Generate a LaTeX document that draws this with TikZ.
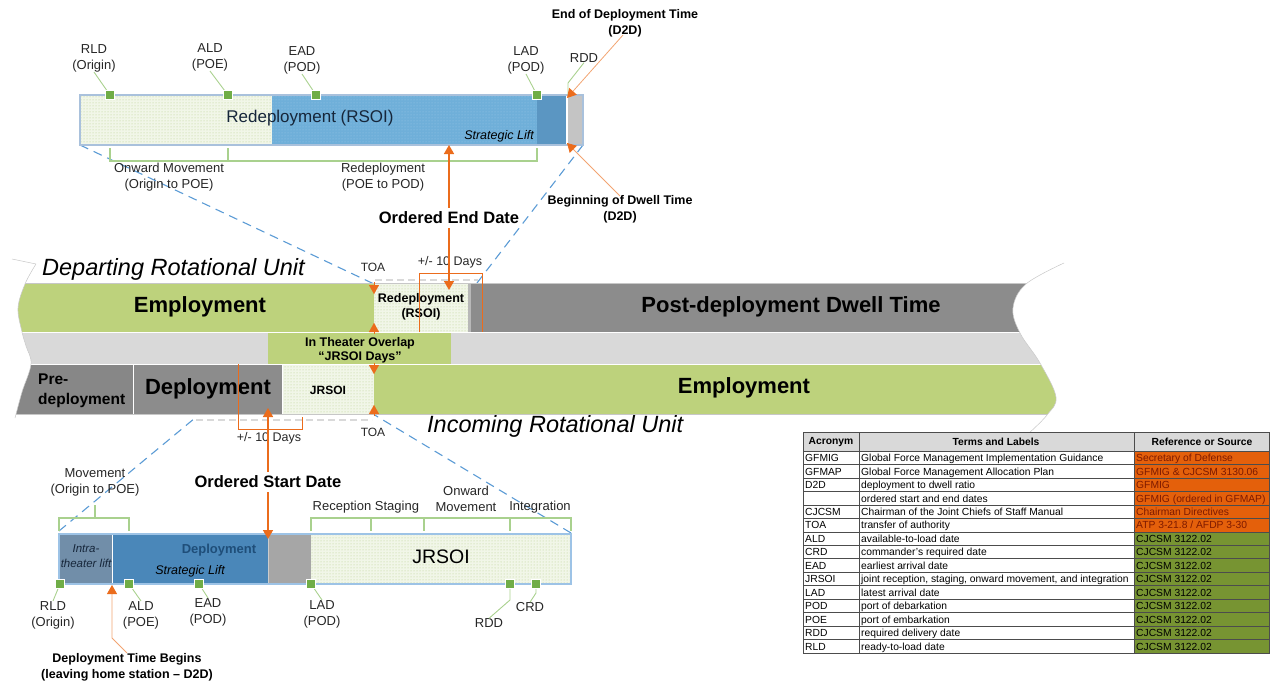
\documentclass[tikz,border=0pt]{standalone}
\usepackage{fontspec}
\setmainfont{Liberation Sans}
\usetikzlibrary{arrows.meta,patterns}

\definecolor{empgreen}{HTML}{BDD27C}
\definecolor{dwellgrey}{HTML}{8C8C8C}
\definecolor{predgrey}{HTML}{878787}
\definecolor{bandgrey}{HTML}{D9D9D9}
\definecolor{hatchbg}{HTML}{F1F6E8}
\definecolor{hatchdot}{HTML}{B5CF8A}
\definecolor{liftblue}{HTML}{6FAFD9}
\definecolor{liftdot}{HTML}{9CC8E6}
\definecolor{liftdark}{HTML}{5B96C2}
\definecolor{endgrey}{HTML}{C4C4C4}
\definecolor{intrablue}{HTML}{718EA9}
\definecolor{depblue}{HTML}{4A87B9}
\definecolor{gapgrey}{HTML}{A6A6A6}
\definecolor{arrorange}{HTML}{EB6C1C}
\definecolor{calloutorange}{HTML}{F2A472}
\definecolor{mkgreen}{HTML}{70AD47}
\definecolor{leadgreen}{HTML}{A9D18E}
\definecolor{dashblue}{HTML}{5B9BD5}
\definecolor{reforange}{HTML}{E4600B}
\definecolor{reftext}{HTML}{7E1A00}
\definecolor{refolive}{HTML}{779432}
\definecolor{ink}{HTML}{262626}
\definecolor{barframe}{HTML}{A9C1DC}
\definecolor{lowframe}{HTML}{9DC3E6}
\definecolor{navytext}{HTML}{1F4E79}
\definecolor{titletext}{HTML}{16263A}

\newcommand\fsz[2]{\fontsize{#1}{#2}\selectfont}

\tikzset{
  lab/.style={inner sep=0pt, align=center, text=ink, font=\fsz{13}{16}},
  blab/.style={inner sep=0pt, align=center, text=black, font=\fsz{12.5}{16}\bfseries},
  bandtxt/.style={inner sep=0pt, text=black, font=\fsz{22}{26}\bfseries},
  unittxt/.style={inner sep=0pt, text=black, anchor=west, font=\fsz{23.5}{26}\itshape},
  small/.style={inner sep=0pt, text=ink, font=\fsz{12.5}{14}},
  mk/.style={rectangle, fill=mkgreen, draw=white, line width=0.6pt, minimum size=8.5pt, inner sep=0pt},
  lead/.style={draw=leadgreen, line width=0.9pt},
  brk/.style={draw=leadgreen, line width=1.4pt},
  oarr/.style={draw=arrorange, line width=1.5pt, -{Triangle[length=9pt,width=10pt]}},
  otip/.style={draw=arrorange, line width=0.1pt, -{Triangle[length=9pt,width=10pt]}},
  othin/.style={draw=arrorange, line width=0.7pt},
  callout/.style={draw=calloutorange, line width=0.8pt, -{Triangle[length=9pt,width=10pt,fill=arrorange,color=arrorange]}},
  bluedash/.style={draw=dashblue, line width=1.1pt, dash pattern=on 9pt off 6pt},
  greydash/.style={draw=black!15, line width=1.4pt, dash pattern=on 7pt off 4pt},
  faint/.style={draw=black!22, line width=0.5pt},
  cell/.style={inner sep=0pt, anchor=base west, text=black, font=\fsz{10.3}{12}},
  hdr/.style={inner sep=0pt, text=black, font=\fsz{10.3}{12}\bfseries},
}

\begin{document}
\begin{tikzpicture}[x=1pt, y=-1pt]
\useasboundingbox (0,0) rectangle (1270,685);

% ---------- dashed zoom guides ----------
\coordinate (tbl) at (80,145);
\coordinate (tbr) at (583,145);
\coordinate (toaT) at (374,284);
\coordinate (rsoiR) at (477,283);
\coordinate (bbl) at (59,531);
\coordinate (bbr) at (571,533);
\coordinate (dashL) at (195,418);
\coordinate (toaB) at (373,414);
\draw[bluedash] (tbl) -- (toaT);
\draw[bluedash] (tbr) -- (rsoiR);
\draw[bluedash] (bbl) -- (dashL);
\draw[bluedash] (bbr) -- (toaB);

% ---------- upper bar: redeployment ----------
\fill[hatchbg] (80,95) rectangle (272,145);
\fill[pattern=dots, pattern color=hatchdot] (80,95) rectangle (272,145);
\fill[liftblue] (272,95) rectangle (537,145);
\fill[pattern=dots, pattern color=liftdot] (272,95) rectangle (537,145);
\fill[liftdark] (537,95) rectangle (567,145);
\fill[endgrey] (567,95) rectangle (583,145);
\draw[white, line width=1.2pt] (567,96) -- (567,144);
\draw[barframe, line width=1.3pt] (80,95) rectangle (583,145);

\node[inner sep=0pt, text=titletext, font=\fsz{17}{20}] (redepTitle) at (310,118) {Redeployment (RSOI)};
\node[inner sep=0pt, text=black, font=\fsz{12.5}{14}\itshape] (slTop) at (499,136) {Strategic Lift};

% markers on the upper bar
\node[lab] (lRLDt) at (94,58) {RLD\\(Origin)};
\node[lab] (lALDt) at (210,57) {ALD\\(POE)};
\node[lab] (lEADt) at (302,60) {EAD\\(POD)};
\node[lab] (lLADt) at (526,60) {LAD\\(POD)};
\node[lab] (lRDDt) at (584,58) {RDD};
\coordinate (rddBend) at (568,83);
\draw[lead] (lRLDt.south) -- (110,95);
\draw[lead] (lALDt.south) -- (228,95);
\draw[lead] (lEADt.south) -- (316,95);
\draw[lead] (lLADt.south) -- (537,95);
\draw[lead] (lRDDt.south) -- (rddBend) -- (568,95);
\node[mk] (mRLDt) at (110,95) {};
\node[mk] (mALDt) at (228,95) {};
\node[mk] (mEADt) at (316,95) {};
\node[mk] (mLADt) at (537,95) {};

% bracket under the upper bar
\draw[brk] (110,148) -- (110,161) -- (537,161) -- (537,148);
\draw[brk] (228,148) -- (228,161);
\node[lab] (onwTop) at (169,177.5) {Onward Movement\\(Origin to POE)};
\node[lab] (redTop) at (383,177.5) {Redeployment\\(POE to POD)};

% D2D call-outs
\node[blab] (eodt) at (625,23) {End of Deployment Time\\(D2D)};
\node[blab] (bodt) at (620,209) {Beginning of Dwell Time\\(D2D)};
\draw[callout] ([shift={(-2,-2)}]eodt.south) -- (567,98);
\draw[callout] ([shift={(0,1)}]bodt.north) -- (567,143);

% ordered end date
\node[inner sep=0pt, font=\fsz{16.5}{20}\bfseries] (oed) at (449,218) {Ordered End Date};
\draw[oarr] ([yshift=4pt]oed.north) -- (449,145);

% ---------- rotation bands ----------
\fill[empgreen] (10,284) rectangle (374,332);
\fill[hatchbg] (374,284) rectangle (468,332);
\fill[pattern=dots, pattern color=hatchdot] (374,284) rectangle (468,332);
\fill[black!28] (468,284) rectangle (471,332);
\fill[dwellgrey] (471,284) rectangle (1080,332);
\fill[bandgrey] (10,332) rectangle (1080,364);
\fill[empgreen] (268,333) rectangle (451,364);
\fill[predgrey] (10,364) rectangle (133,414);
\fill[dwellgrey] (133,364) rectangle (282,414);
\fill[hatchbg] (283,364) rectangle (374,414);
\fill[pattern=dots, pattern color=hatchdot] (283,364) rectangle (374,414);
\fill[empgreen] (374,364) rectangle (1080,414);
\draw[white, line width=1pt] (10,332.5) -- (1080,332.5);
\draw[white, line width=1pt] (10,364) -- (1080,364);
\draw[white, line width=1pt] (133,364) -- (133,414);
\draw[white, line width=0.8pt] (282.5,364) -- (282.5,414);
\draw[black!22, line width=0.8pt] (10,283.5) -- (1080,283.5);
\draw[black!22, line width=0.8pt] (10,414.5) -- (1080,414.5);

% torn edges on both sides
\fill[white] plot[smooth, tension=0.6] coordinates {(36,264) (25,284) (18,308) (22,332) (26,346) (31,364) (22,392) (15,418)} -- (0,418) -- (0,258) -- cycle;
\draw[faint] plot[smooth, tension=0.6] coordinates {(36,264) (25,284) (18,308) (22,332) (26,346) (31,364) (22,392) (15,418)};
\draw[faint] (12,259) -- (36,264);
\fill[white] plot[smooth, tension=0.6] coordinates {(1064,263) (1026,284) (1013,308) (1020,333) (1040,363) (1056,397) (1047,415) (1028,434)} -- (1110,434) -- (1110,258) -- cycle;
\draw[faint] plot[smooth, tension=0.6] coordinates {(1064,263) (1026,284) (1013,308) (1020,333) (1040,363) (1056,397) (1047,415) (1028,434)};

% faint dashed frames around the transition boxes
\draw[greydash] (375,280) -- (478,280);
\draw[greydash] (196,420) -- (372,420);

% band captions
\node[bandtxt] (empD) at (200,307) {Employment};
\node[bandtxt] (dwell) at (791,307) {Post-deployment Dwell Time};
\node[bandtxt] (empI) at (744,388) {Employment};
\node[bandtxt] (depI) at (208,389) {Deployment};
\node[inner sep=0pt, align=left, anchor=west, text=black, font=\fsz{15.5}{20}\bfseries] (predep) at (38,391) {Pre-\\deployment};
\node[inner sep=0pt, align=center, text=black, font=\fsz{12.5}{15}\bfseries] (rsoiBox) at (421,307) {Redeployment\\(RSOI)};
\node[inner sep=0pt, align=center, text=black, font=\fsz{12.5}{14}\bfseries] (overlap) at (360,350) {In Theater Overlap\\“JRSOI Days”};
\node[inner sep=0pt, text=black, font=\fsz{12}{14}\bfseries] (jrsoiBox) at (328,390) {JRSOI};

\node[unittxt] (depUnit) at (42,269) {Departing Rotational Unit};
\node[unittxt] (incUnit) at (427,426) {Incoming Rotational Unit};

% transfer of authority
\node[inner sep=0pt, text=ink, font=\fsz{12}{14}] (toaTop) at (373,267) {TOA};
\node[inner sep=0pt, text=ink, font=\fsz{12}{14}] (toaBot) at (373,432) {TOA};
\draw[otip] (374,282) -- (374,294);
\draw[otip] (374,334) -- (374,323);
\draw[otip] (374,363) -- (374,374);
\draw[otip] (374,416) -- (374,405);

% +/- 10 days windows
\node[small] (pmTop) at (450,262) {+/- 10 Days};
\draw[othin] (419,332) -- (419,273) -- (482,273) -- (482,332);
\node[small] (pmBot) at (269,438) {+/- 10 Days};
\draw[othin] (238,364) -- (238,429) -- (302,429) -- (302,417);

\draw[oarr] ([yshift=-4pt]oed.south) -- (449,290);

% ---------- lower bar: deployment ----------
\fill[intrablue] (59,534) rectangle (112,584);
\fill[depblue] (112,534) rectangle (268,584);
\fill[gapgrey] (268,534) rectangle (311,584);
\fill[hatchbg] (311,534) rectangle (571,584);
\fill[pattern=dots, pattern color=hatchdot] (311,534) rectangle (571,584);
\draw[white, line width=1pt] (112,535) -- (112,583);
\draw[white!80!black, line width=0.8pt] (268,535) -- (268,583);
\draw[lowframe, line width=1.3pt] (59,534) rectangle (571,584);

\node[inner sep=0pt, align=center, text=titletext, font=\fsz{11.5}{15}\itshape] (intra) at (86,556) {Intra-\\theater lift};
\node[inner sep=0pt, text=navytext, font=\fsz{13}{15}\bfseries] (depBar) at (219,550) {Deployment};
\node[inner sep=0pt, text=black, font=\fsz{12.5}{15}\itshape] (slBot) at (190,571) {Strategic Lift};
\node[inner sep=0pt, text=black, font=\fsz{19.5}{22}] (jrsoiBar) at (441,557) {JRSOI};

% ordered start date
\node[inner sep=0pt, font=\fsz{16.5}{20}\bfseries] (osd) at (268,482) {Ordered Start Date};
\draw[oarr] ([yshift=4pt]osd.north) -- (268,408);
\draw[oarr] ([yshift=-4pt]osd.south) -- (268,539);

% brackets above the lower bar
\draw[brk] (59,531) -- (59,518) -- (129,518) -- (129,531);
\draw[brk] (95,518) -- (95,505);
\node[lab] (mvmt) at (95,482) {Movement\\(Origin to POE)};
\draw[brk] (311,531) -- (311,518) -- (571,518) -- (571,531);
\foreach \x in {371,424,510} \draw[brk] (\x,518) -- (\x,531);
\node[lab] (rec) at (342,507) {Reception};
\node[lab] (stg) at (397,507) {Staging};
\node[lab] (onwBot) at (466,499) {Onward\\Movement};
\node[lab] (integ) at (540,507) {Integration};

% markers on the lower bar
\node[lab] (lRLDb) at (53,615) {RLD\\(Origin)};
\node[lab] (lALDb) at (141,615) {ALD\\(POE)};
\node[lab] (lEADb) at (208,612) {EAD\\(POD)};
\node[lab] (lLADb) at (322,614) {LAD\\(POD)};
\node[lab] (lRDDb) at (489,623) {RDD};
\node[lab] (lCRDb) at (530,607) {CRD};
\draw[lead] (60,584) -- (lRLDb.north);
\draw[lead] (129,584) -- (lALDb.north);
\draw[lead] (199,584) -- (lEADb.north);
\draw[lead] (311,584) -- (lLADb.north);
\draw[lead] (510,584) -- (510,600) -- (lRDDb.north);
\draw[lead] (536,584) -- (536,593) -- (lCRDb.north);
\node[mk] (mRLDb) at (60,584) {};
\node[mk] (mALDb) at (129,584) {};
\node[mk] (mEADb) at (199,584) {};
\node[mk] (mLADb) at (311,584) {};
\node[mk] (mRDDb) at (510,584) {};
\node[mk] (mCRDb) at (536,584) {};

% deployment time begins
\node[inner sep=0pt, align=center, text=black, font=\fsz{12.5}{16}\bfseries] (dtb) at (127,667) {Deployment Time Begins\\(leaving home station – D2D)};
\coordinate (dtbBend) at (112,638);
\draw[callout] (dtb.north) -- (dtbBend) -- (112,585);

% ---------- acronym table ----------
\fill[bandgrey] (803,432) rectangle (1269.5,451);
\node[hdr] (hAc) at (831,442) {Acronym};
\node[hdr] (hTerm) at (996,442) {Terms and Labels};
\node[hdr] (hRef) at (1202,442) {Reference or Source};
\foreach \i/\ac/\term/\src/\col/\tcol in {
  1/GFMIG/{Global Force Management Implementation Guidance}/{Secretary of Defense}/reforange/reftext,
  2/GFMAP/{Global Force Management Allocation Plan}/{GFMIG \& CJCSM 3130.06}/reforange/reftext,
  3/D2D/{deployment to dwell ratio}/{GFMIG}/reforange/reftext,
  4/{}/{ordered start and end dates}/{GFMIG (ordered in GFMAP)}/reforange/reftext,
  5/CJCSM/{Chairman of the Joint Chiefs of Staff Manual}/{Chairman Directives}/reforange/reftext,
  6/TOA/{transfer of authority}/{ATP 3-21.8 / AFDP 3-30}/reforange/reftext,
  7/ALD/{available-to-load date}/{CJCSM 3122.02}/refolive/black,
  8/CRD/{commander's required date}/{CJCSM 3122.02}/refolive/black,
  9/EAD/{earliest arrival date}/{CJCSM 3122.02}/refolive/black,
  10/JRSOI/{joint reception, staging, onward movement, and integration}/{CJCSM 3122.02}/refolive/black,
  11/LAD/{latest arrival date}/{CJCSM 3122.02}/refolive/black,
  12/POD/{port of debarkation}/{CJCSM 3122.02}/refolive/black,
  13/POE/{port of embarkation}/{CJCSM 3122.02}/refolive/black,
  14/RDD/{required delivery date}/{CJCSM 3122.02}/refolive/black,
  15/RLD/{ready-to-load date}/{CJCSM 3122.02}/refolive/black}{
  \pgfmathsetmacro\yt{451+(\i-1)*13.47}
  \pgfmathsetmacro\yb{\yt+13.47}
  \pgfmathsetmacro\ybase{\yt+10.6}
  \fill[\col] (1134,\yt) rectangle (1269.5,\yb);
  \node[cell] (ac\i) at (805,\ybase) {\ac};
  \node[cell] (tm\i) at (861,\ybase) {\term};
  \node[cell, text=\tcol] (rs\i) at (1136,\ybase) {\src};
}
\foreach \k in {0,...,15} \draw[black!70, line width=0.6pt] (803,451+\k*13.47) -- (1269.5,451+\k*13.47);
\draw[black!70, line width=0.6pt] (803,432) -- (1269.5,432);
\foreach \x in {803,859,1134,1269.5} \draw[black!70, line width=0.6pt] (\x,432) -- (\x,653);
\end{tikzpicture}
\end{document}
